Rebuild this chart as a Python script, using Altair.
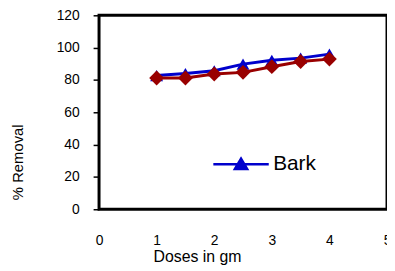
import altair as alt
import pandas as pd

doses = [1, 1.5, 2, 2.5, 3, 3.5, 4]
bark = [82.7, 84.0, 85.7, 89.8, 92.2, 93.5, 96.0]
other = [81.2, 81.2, 83.7, 84.7, 88.2, 91.4, 92.9]
x_ticks = [0, 1, 2, 3, 4, 5]
y_ticks = [0, 20, 40, 60, 80, 100, 120]
series_names = ["Bark"]

BLUE = "#0000CC"
RED = "#990000"
FONT = "Liberation Sans"

df = pd.DataFrame({"dose": doses, "bark": bark, "other": other})

xaxis = alt.Axis(
    values=x_ticks, title="Doses in gm", ticks=False, domain=False, grid=False,
    labelPadding=25, labelFontSize=14, labelFont=FONT, labelColor="black",
    labelFlush=False, labelOverlap=False, titleFont=FONT, titleFontSize=16,
    titleFontWeight="normal", titleColor="black", titleX=99, titleY=48,
    titleBaseline="middle",
)
yaxis = alt.Axis(
    values=y_ticks, title="% Removal", domain=False, grid=False,
    tickSize=6, tickColor="black", tickWidth=1.5, labelPadding=14, labelOverlap=False,
    labelFontSize=14, labelFont=FONT, labelColor="black",
    titleFont=FONT, titleFontSize=15, titleFontWeight="normal", titleColor="black",
    titleX=-82, titleY=148, titleAngle=-90, titleBaseline="middle", titleAlign="center",
)
xscale = alt.Scale(domain=[0, 5], nice=False)
yscale = alt.Scale(domain=[0, 120], nice=False)


def xe():
    return alt.X("dose:Q", scale=xscale, axis=xaxis)


def ye(field):
    return alt.Y(field, type="quantitative", scale=yscale, axis=yaxis)


base = alt.Chart(df)

blue_line = base.mark_line(color=BLUE, strokeWidth=3).encode(x=xe(), y=ye("bark"))
blue_pts = base.mark_point(filled=True, shape="triangle-up", size=170, opacity=1).encode(
    x=xe(),
    y=ye("bark"),
    color=alt.Color(
        "s:N",
        scale=alt.Scale(domain=series_names, range=[BLUE]),
        legend=alt.Legend(
            orient="none", legendX=114, legendY=121, title=None, padding=0,
            symbolType="M-1,0H1M-0.22,0.17L0,-0.2L0.22,0.17Z", symbolSize=3136,
            symbolStrokeWidth=2.5, symbolStrokeColor=BLUE, symbolFillColor=BLUE,
            labelFontSize=21, labelFont=FONT, labelColor="black", labelOffset=3,
        ),
    ),
).transform_calculate(s="'Bark'")
red_line = base.mark_line(color=RED, strokeWidth=3).encode(x=xe(), y=ye("other"))
red_pts = base.mark_point(filled=True, shape="diamond", size=225, color=RED, opacity=1).encode(
    x=xe(), y=ye("other")
)

chart = (
    alt.layer(blue_line, blue_pts, red_line, red_pts)
    .properties(width=291, height=196, autosize=alt.AutoSizeParams(type="none"),
                padding={"left": 92, "top": 6, "right": 0, "bottom": 60},
                background="white")
    .configure_view(stroke="black", strokeWidth=3)
)

chart.save("out.html", embed_options={"renderer": "svg", "actions": False})
